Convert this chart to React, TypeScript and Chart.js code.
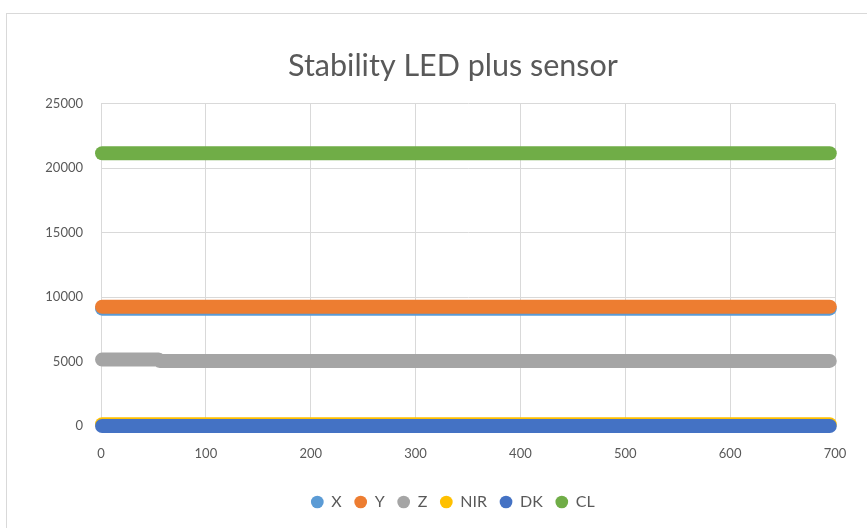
import React, { useEffect, useRef } from "react";
import { Chart, registerables } from "chart.js";

Chart.register(...registerables);

const timeSec = [1, 55, 56, 100, 200, 300, 400, 500, 600, 695];
const seriesX = [9100, 9100, 9100, 9100, 9100, 9100, 9100, 9100, 9100, 9100];
const seriesY = [9250, 9250, 9250, 9250, 9250, 9250, 9250, 9250, 9250, 9250];
const seriesZ = [5150, 5150, 5050, 5050, 5050, 5050, 5050, 5050, 5050, 5050];
const seriesNIR = [130, 130, 130, 130, 130, 130, 130, 130, 130, 130];
const seriesDK = [0, 0, 0, 0, 0, 0, 0, 0, 0, 0];
const seriesCL = [21150, 21150, 21150, 21150, 21150, 21150, 21150, 21150, 21150, 21150];

const seriesNames = ["X", "Y", "Z", "NIR", "DK", "CL"];
const seriesColors = ["#5B9BD5", "#ED7D31", "#A5A5A5", "#FFC000", "#4472C4", "#70AD47"];
const seriesValues = [seriesX, seriesY, seriesZ, seriesNIR, seriesDK, seriesCL];

const titleText = "Stability LED plus sensor";
const FONT = "Lato, 'Open Sans', sans-serif";

export default function App() {
  const ref = useRef<HTMLCanvasElement | null>(null);

  useEffect(() => {
    if (!ref.current) return;
    const datasets = seriesNames.map((name, i) => ({
      label: name,
      data: timeSec.map((t, j) => ({ x: t, y: seriesValues[i][j] })),
      borderColor: seriesColors[i],
      backgroundColor: seriesColors[i],
      borderWidth: 14,
      borderCapStyle: "round" as const,
      borderJoinStyle: "round" as const,
      pointRadius: 0,
      pointStyle: "circle" as const,
      showLine: true,
      tension: 0,
      clip: false as const,
      order: seriesNames.length - i,
      yAxisID: "y",
    }));

    const chart = new Chart(ref.current, {
      type: "scatter",
      data: { datasets },
      options: {
        animation: false,
        responsive: false,
        maintainAspectRatio: false,
        layout: { padding: { left: 0, right: 0, top: 0, bottom: 8 } },
        plugins: {
          title: {
            display: true,
            text: titleText,
            color: "#595959",
            font: { family: FONT, size: 30.5, weight: "normal" },
            padding: { top: 48, bottom: 19 },
          },
          legend: {
            position: "bottom",
            labels: {
              usePointStyle: true,
              boxWidth: 12,
              boxHeight: 9,
              padding: 13,
              color: "#595959",
              font: { family: FONT, size: 16 },
              sort: (a: any, b: any) => a.datasetIndex - b.datasetIndex,
              generateLabels: (c: any) => {
                const items = Chart.defaults.plugins.legend.labels.generateLabels(c);
                return items.map((it: any) => ({
                  ...it,
                  lineWidth: 0,
                  fillStyle: seriesColors[it.datasetIndex],
                  strokeStyle: seriesColors[it.datasetIndex],
                  pointStyle: "circle",
                }));
              },
            },
          },
          tooltip: { enabled: false },
        },
        scales: {
          x: {
            type: "linear",
            min: 0,
            max: 700,
            ticks: {
              stepSize: 100,
              color: "#595959",
              padding: 20,
              font: { family: FONT, size: 13 },
            },
            grid: { color: "#D9D9D9", drawTicks: false, lineWidth: 1 },
            border: { color: "#D9D9D9" },
            afterFit: (s: any) => {
              s.height = 55;
            },
          },
          y: {
            type: "linear",
            position: "left",
            min: 0,
            max: 25000,
            ticks: {
              stepSize: 5000,
              color: "#595959",
              padding: 18,
              font: { family: FONT, size: 13 },
              callback: (v: any) => String(v),
            },
            grid: { color: "#D9D9D9", drawTicks: false, lineWidth: 1 },
            border: { color: "#D9D9D9" },
            afterFit: (s: any) => {
              s.width = 101;
            },
          },
          spacer: {
            type: "linear",
            position: "right",
            display: true,
            grid: { display: false, drawTicks: false },
            border: { display: false },
            ticks: { display: false },
            afterFit: (s: any) => {
              s.width = 71;
            },
          },
        },
      },
    });
    return () => chart.destroy();
  }, []);

  return (
    <div
      style={{
        position: "absolute",
        left: 0,
        top: 0,
        width: 867,
        height: 528,
        background: "#fff",
        overflow: "hidden",
      }}
    >
      <div
        style={{
          position: "absolute",
          left: 6,
          top: 13,
          width: 880,
          height: 540,
          border: "1px solid #D9D9D9",
          boxSizing: "border-box",
        }}
      />
      <canvas
        ref={ref}
        width={906}
        height={528}
        style={{ position: "absolute", left: 0, top: 0, width: 906, height: 528 }}
      />
    </div>
  );
}
